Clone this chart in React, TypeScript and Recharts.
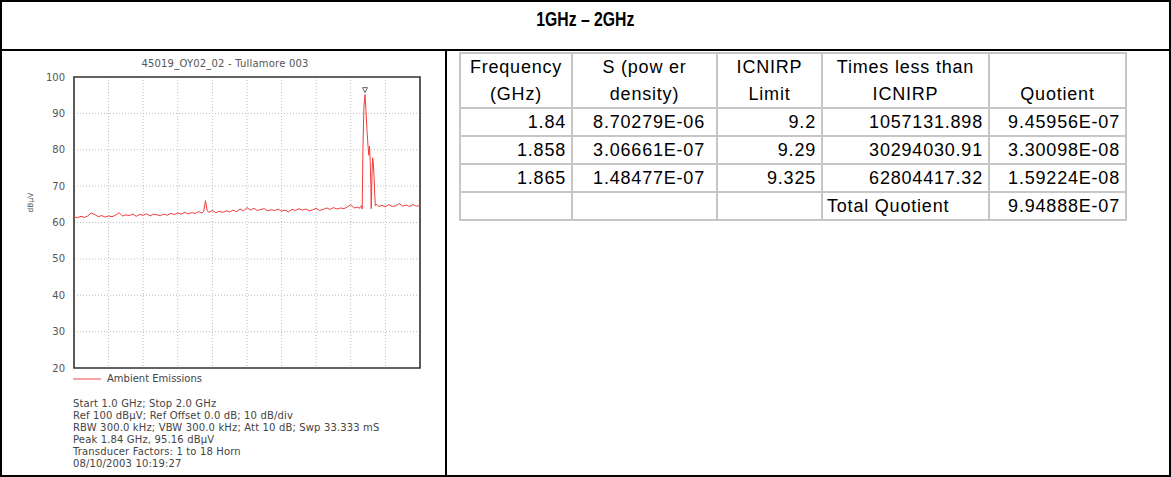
import {
  LineChart,
  Line,
  XAxis,
  YAxis,
  CartesianGrid,
  ReferenceArea,
  ReferenceDot,
} from 'recharts';

// spectrum trace, [frequency GHz, level dBuV]
const SWEEP_LOW: [number, number][] = [
  [1.0, 61.6], [1.01, 61.3], [1.02, 61.7], [1.03, 61.4], [1.04, 61.8],
  [1.05, 62.6], [1.06, 62.2], [1.07, 61.6], [1.08, 61.9], [1.09, 61.5],
  [1.1, 61.8], [1.11, 61.6], [1.12, 62.0], [1.13, 62.7], [1.14, 61.8],
  [1.15, 62.1], [1.16, 61.9], [1.17, 62.3], [1.18, 61.7], [1.19, 62.2],
  [1.2, 62.0], [1.21, 62.4], [1.22, 61.8], [1.23, 62.3], [1.24, 62.1],
  [1.25, 61.9], [1.26, 62.3], [1.27, 62.0], [1.28, 62.5], [1.29, 62.2],
  [1.3, 62.6], [1.31, 62.3], [1.32, 62.8], [1.33, 62.4], [1.34, 62.7],
  [1.35, 62.5], [1.36, 63.0], [1.37, 62.6], [1.375, 63.1], [1.38, 66.0],
  [1.385, 63.2], [1.39, 62.8], [1.4, 63.3], [1.41, 62.7], [1.42, 63.1],
  [1.43, 62.8], [1.44, 63.2], [1.45, 62.9], [1.46, 63.4], [1.47, 63.0],
  [1.48, 63.7], [1.49, 63.2], [1.5, 64.1], [1.51, 63.4], [1.52, 63.9],
  [1.53, 63.3], [1.54, 63.6], [1.55, 63.8], [1.56, 63.2], [1.57, 63.5],
  [1.58, 63.3], [1.59, 63.7], [1.6, 63.1], [1.61, 63.4], [1.62, 62.9],
  [1.63, 63.6], [1.64, 63.3], [1.65, 63.8], [1.66, 63.4], [1.67, 63.7],
  [1.68, 63.2], [1.69, 63.5], [1.7, 63.9], [1.71, 63.3], [1.72, 63.6],
  [1.73, 64.0], [1.74, 63.6], [1.75, 64.1], [1.76, 63.7], [1.77, 64.0],
  [1.78, 63.8], [1.79, 64.3], [1.8, 64.9], [1.81, 64.0], [1.82, 64.2],
];

const SPIKE: [number, number][] = [
  [1.825, 63.9], [1.828, 64.4], [1.831, 64.6], [1.833, 63.7], [1.835, 80.0],
  [1.838, 92.0], [1.841, 95.16], [1.844, 90.5], [1.847, 85.0], [1.85, 80.8],
  [1.852, 78.5], [1.854, 81.0], [1.856, 77.0], [1.858, 70.0], [1.859, 63.8],
  [1.861, 72.0], [1.863, 77.8], [1.865, 76.5], [1.867, 73.0], [1.869, 68.0],
  [1.871, 64.6], [1.875, 65.0], [1.88, 64.4],
];

const SWEEP_HIGH: [number, number][] = [
  [1.89, 64.7], [1.9, 64.3], [1.91, 64.9], [1.92, 64.4], [1.93, 64.6],
  [1.94, 65.2], [1.95, 64.5], [1.96, 64.8], [1.97, 64.4], [1.98, 64.9],
  [1.99, 64.5], [2.0, 64.7],
];

const PEAK: [number, number] = [1.841, 95.16];

const Y_TICKS = [20, 30, 40, 50, 60, 70, 80, 90, 100];
const X_TICKS = [1.0, 1.1, 1.2, 1.3, 1.4, 1.5, 1.6, 1.7, 1.8, 1.9, 2.0];

const FOOTER_LINES = [
  'Start 1.0 GHz; Stop 2.0 GHz',
  'Ref 100 dBµV; Ref Offset 0.0 dB; 10 dB/div',
  'RBW 300.0 kHz; VBW 300.0 kHz; Att 10 dB; Swp 33.333 mS',
  'Peak 1.84 GHz, 95.16 dBµV',
  'Transducer Factors: 1 to 18 Horn',
  '08/10/2003 10:19:27',
];

const TABLE_HEADER = [
  ['Frequency', '(GHz)'],
  ['S (pow er', 'density)'],
  ['ICNIRP', 'Limit'],
  ['Times less than', 'ICNIRP'],
  ['', 'Quotient'],
];

const TABLE_ROWS = [
  ['1.84', '8.70279E-06', '9.2', '1057131.898', '9.45956E-07'],
  ['1.858', '3.06661E-07', '9.29', '30294030.91', '3.30098E-08'],
  ['1.865', '1.48477E-07', '9.325', '62804417.32', '1.59224E-08'],
];

const TOTAL_ROW = ['', '', '', 'Total Quotient', '9.94888E-07'];

const trace = [...SWEEP_LOW, ...SPIKE, ...SWEEP_HIGH].map(([f, v]) => ({ f, v }));

const COL_WIDTHS = [112, 145, 105, 167, 137];
const SANS = "'Liberation Sans', Arial, sans-serif";
const PLOT_FONT = "'DejaVu Sans', Verdana, sans-serif";
const cellBorder = '2px solid #c6c6c6';

function PeakMarker(props: any) {
  const { cx, cy } = props;
  if (cx == null || cy == null) return null;
  return (
    <path
      d={`M${cx - 2.5},${cy - 7} L${cx + 2.5},${cy - 7} L${cx},${cy - 2} Z`}
      fill="#fff"
      stroke="#666"
      strokeWidth={1}
    />
  );
}

function UnitLabel(props: any) {
  const vb = props.viewBox;
  if (!vb) return null;
  const x = vb.x - 4;
  const y = vb.y + vb.height / 2 - 20;
  return (
    <text
      x={x}
      y={y}
      transform={`rotate(-90 ${x} ${y})`}
      textAnchor="middle"
      dominantBaseline="central"
      fontSize={7.5}
      fill="#555"
    >
      dBµV
    </text>
  );
}

export default function App() {
  return (
    <div
      style={{
        position: 'absolute',
        left: 0,
        top: 0,
        width: 1171,
        height: 477,
        boxSizing: 'border-box',
        border: '2px solid #000',
        background: '#fff',
        fontFamily: SANS,
      }}
    >
      {/* title bar */}
      <div
        style={{
          position: 'absolute',
          left: 0,
          top: 0,
          width: 1167,
          height: 47,
          borderBottom: '2px solid #000',
          textAlign: 'center',
          fontWeight: 'bold',
          fontSize: 21,
          lineHeight: '33px',
        }}
      >
        <span style={{ display: 'inline-block', transform: 'scaleX(0.75)' }}>
          1GHz – 2GHz
        </span>
      </div>

      {/* left panel: analyser plot */}
      <div
        style={{
          position: 'absolute',
          left: 0,
          top: 49,
          width: 443,
          height: 424,
          borderRight: '2px solid #000',
        }}
      />
      <div
        style={{
          position: 'absolute',
          left: -2,
          top: 56,
          width: 450,
          textAlign: 'center',
          fontFamily: PLOT_FONT,
          fontSize: 10,
          letterSpacing: 0.2,
          lineHeight: '12px',
          color: '#555',
        }}
      >
        45019_OY02_02 - Tullamore 003
      </div>
      <div style={{ position: 'absolute', left: -2, top: 48, fontFamily: PLOT_FONT }}>
        <LineChart
          width={440}
          height={330}
          data={trace}
          margin={{ top: 27, right: 20, bottom: 12, left: 34 }}
        >
          <CartesianGrid stroke="#bdbdbd" strokeDasharray="1 2" />
          <XAxis type="number" dataKey="f" domain={[1, 2]} ticks={X_TICKS} hide />
          <YAxis
            type="number"
            domain={[20, 100]}
            ticks={Y_TICKS}
            width={40}
            tickLine={false}
            axisLine={false}
            tickMargin={3}
            tick={{ fontSize: 10, fill: '#555' }}
            label={{ content: UnitLabel }}
          />
          <ReferenceArea
            x1={1}
            x2={2}
            y1={20}
            y2={100}
            fill="none"
            stroke="#333"
            strokeWidth={1.6}
          />
          <Line
            type="linear"
            dataKey="v"
            stroke="#f53b3b"
            strokeWidth={1}
            dot={false}
            isAnimationActive={false}
          />
          <ReferenceDot x={PEAK[0]} y={PEAK[1]} shape={PeakMarker} />
        </LineChart>
      </div>

      {/* legend */}
      <div
        style={{
          position: 'absolute',
          left: 71,
          top: 371,
          display: 'flex',
          alignItems: 'center',
          fontFamily: PLOT_FONT,
          fontSize: 10,
          lineHeight: '12px',
          color: '#444',
        }}
      >
        <svg width={30} height={12}>
          <line x1={0} y1={6} x2={28} y2={6} stroke="#f7a3a3" strokeWidth={2} />
        </svg>
        <span style={{ marginLeft: 4 }}>Ambient Emissions</span>
      </div>

      {/* analyser settings */}
      <div
        style={{
          position: 'absolute',
          left: 71,
          top: 396,
          fontFamily: PLOT_FONT,
          fontSize: 10,
          letterSpacing: 0.15,
          lineHeight: '12px',
          color: '#444',
          whiteSpace: 'pre',
        }}
      >
        {FOOTER_LINES.map((l) => (
          <div key={l}>{l}</div>
        ))}
      </div>

      {/* exposure table */}
      <table
        style={{
          position: 'absolute',
          left: 457,
          top: 50,
          width: COL_WIDTHS.reduce((a, b) => a + b, 0) + 2,
          borderCollapse: 'collapse',
          tableLayout: 'fixed',
          fontSize: 18,
          letterSpacing: 0.8,
          color: '#000',
        }}
      >
        <colgroup>
          {COL_WIDTHS.map((w, i) => (
            <col key={i} style={{ width: w }} />
          ))}
        </colgroup>
        <tbody>
          <tr style={{ height: 53 }}>
            {TABLE_HEADER.map((h, i) => (
              <td
                key={i}
                style={{
                  border: cellBorder,
                  textAlign: 'center',
                  verticalAlign: 'bottom',
                  lineHeight: '26.5px',
                  padding: 0,
                  whiteSpace: 'nowrap',
                }}
              >
                {h[0] ? (
                  <>
                    {h[0]}
                    <br />
                  </>
                ) : null}
                {h[1]}
              </td>
            ))}
          </tr>
          {[...TABLE_ROWS, TOTAL_ROW].map((row, r) => (
            <tr key={r} style={{ height: 28 }}>
              {row.map((c, i) => (
                <td
                  key={i}
                  style={{
                    border: cellBorder,
                    textAlign: c === 'Total Quotient' ? 'left' : 'right',
                    padding: 0,
                    paddingRight: i === 1 ? 11 : 5,
                    paddingLeft: c === 'Total Quotient' ? 4 : 0,
                    lineHeight: '24px',
                    whiteSpace: 'nowrap',
                  }}
                >
                  {c}
                </td>
              ))}
            </tr>
          ))}
        </tbody>
      </table>
    </div>
  );
}
